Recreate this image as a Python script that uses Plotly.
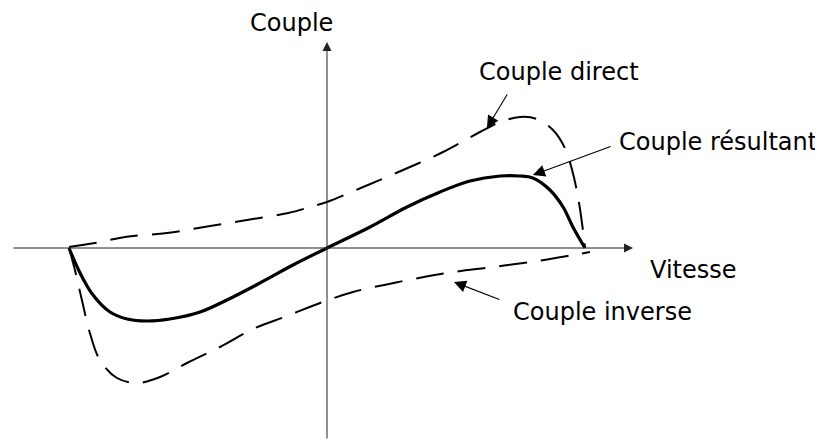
import plotly.graph_objects as go

# Normalised speed (x) and torque (y)
direct_speed = [-1.0, -0.899, -0.783, -0.620, -0.453, -0.287, -0.150, -0.065, 0.0, 0.140, 0.295,
                0.450, 0.593, 0.671, 0.748, 0.814, 0.876, 0.922, 0.950, 0.973, 0.992, 1.0]
direct_torque = [0.01, 0.05, 0.11, 0.15, 0.22, 0.29, 0.35, 0.41, 0.46, 0.61, 0.78,
                 0.96, 1.16, 1.26, 1.31, 1.29, 1.18, 1.00, 0.78, 0.51, 0.18, 0.0]

result_speed = [-1.0, -0.957, -0.907, -0.841, -0.775, -0.698, -0.609, -0.492, -0.388, -0.260,
                -0.132, 0.0, 0.167, 0.310, 0.438, 0.554, 0.671, 0.748, 0.798, 0.864, 0.915, 0.953, 1.0]
result_torque = [0.0, -0.25, -0.47, -0.64, -0.71, -0.73, -0.71, -0.64, -0.52, -0.35,
                 -0.17, 0.0, 0.21, 0.41, 0.56, 0.67, 0.72, 0.72, 0.70, 0.58, 0.41, 0.21, 0.0]

inverse_speed = [-1.0, -0.977, -0.950, -0.919, -0.880, -0.814, -0.736, -0.647, -0.543, -0.415,
                 -0.287, -0.155, -0.027, 0.101, 0.295, 0.465, 0.643, 0.814, 0.953, 1.019]
inverse_torque = [0.0, -0.22, -0.52, -0.85, -1.12, -1.30, -1.35, -1.29, -1.15, -0.99,
                  -0.81, -0.68, -0.55, -0.44, -0.33, -0.25, -0.19, -0.13, -0.07, -0.04]

labels = ["Couple direct", "Couple résultant", "Couple inverse"]
axis_labels = ["Vitesse", "Couple"]

FONT = dict(family="DejaVu Sans", size=24, color="black")

fig = go.Figure()
fig.add_trace(go.Scatter(x=direct_speed, y=direct_torque, mode="lines", line_shape="spline",
                         line=dict(color="black", width=2, dash="28px,14px"), showlegend=False,
                         hoverinfo="skip"))
fig.add_trace(go.Scatter(x=inverse_speed, y=inverse_torque, mode="lines", line_shape="spline",
                         line=dict(color="black", width=2, dash="28px,14px"), showlegend=False,
                         hoverinfo="skip"))
fig.add_trace(go.Scatter(x=result_speed, y=result_torque, mode="lines", line_shape="spline",
                         line=dict(color="black", width=3.2), showlegend=False, hoverinfo="skip"))

ann = []
# axes with arrow heads
ann.append(dict(x=1.186, y=0, ax=-1.221, ay=0, xref="x", yref="y", axref="x", ayref="y",
                text="", showarrow=True, arrowhead=2, arrowsize=1.8, arrowwidth=1,
                arrowcolor="#222", standoff=0))
ann.append(dict(x=0, y=2.06, ax=0, ay=-1.92, xref="x", yref="y", axref="x", ayref="y",
                text="", showarrow=True, arrowhead=2, arrowsize=1.8, arrowwidth=1,
                arrowcolor="#222", standoff=0))
# pointer arrows
for tip, tail in [((0.620, 1.20), (0.702, 1.55)),
                  ((0.798, 0.73), (1.105, 1.02)),
                  ((0.492, -0.34), (0.674, -0.52))]:
    ann.append(dict(x=tip[0], y=tip[1], ax=tail[0], ay=tail[1], xref="x", yref="y",
                    axref="x", ayref="y", text="", showarrow=True, arrowhead=2,
                    arrowsize=2.2, arrowwidth=1.1, arrowcolor="black", standoff=0))
# text labels
for txt, (lx, ly) in zip(labels, [(0.901, 1.76), (1.517, 1.06), (1.066, -0.64)]):
    ann.append(dict(x=lx, y=ly, xref="x", yref="y", text=txt, showarrow=False, font=FONT,
                    xanchor="center", yanchor="middle"))
ann.append(dict(x=1.422, y=-0.22, xref="x", yref="y", text=axis_labels[0], showarrow=False,
                font=FONT, xanchor="center", yanchor="middle"))
ann.append(dict(x=-0.136, y=2.25, xref="x", yref="y", text=axis_labels[1], showarrow=False,
                font=FONT, xanchor="center", yanchor="middle"))

# page body has an 8px margin, so the figure is drawn 8px smaller and the
# ranges are chosen so that content lands where it does in the reference
fig.update_layout(
    width=815, height=433,
    margin=dict(l=0, r=0, t=0, b=0),
    paper_bgcolor="white", plot_bgcolor="white",
    xaxis=dict(range=[-1.2364, 1.9225], visible=False, fixedrange=True),
    yaxis=dict(range=[-1.93, 2.40], visible=False, fixedrange=True),
    annotations=ann,
)

fig.write_html("out.html")
